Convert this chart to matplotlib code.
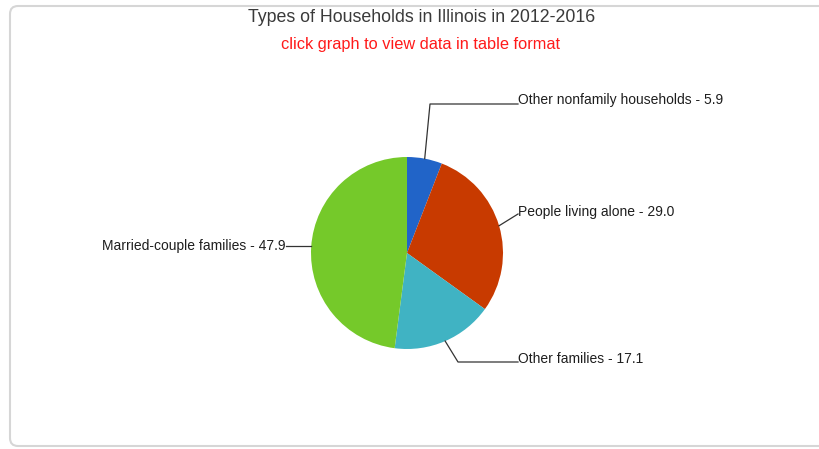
import matplotlib.pyplot as plt
import numpy as np
from matplotlib.patches import FancyBboxPatch

# --- Data ---------------------------------------------------------------------
categories = ["Other nonfamily households", "People living alone",
              "Other families", "Married-couple families"]
values = [5.9, 29.0, 17.1, 47.9]
colors = ["#2164C8", "#C83A00", "#40B3C3", "#75C92A"]

title = "Types of Households in Illinois in 2012-2016"
subtitle = "click graph to view data in table format"

# --- Layout (pixel space, y measured from the top) ---------------------------
W, H = 820, 449
cx, cy, r = 407, 253, 96
# label anchor (x, y) and elbow point of each leader line
label_pos = [(518, 100), (518, 212), (518, 359), (286, 246)]
elbows = [(430, 104), (518, 214), (458, 362), (286, 246)]

fig = plt.figure(figsize=(W / 100, H / 100), dpi=100)
ax = fig.add_axes([0, 0, 1, 1])

# rounded card border
card = FancyBboxPatch((10, 3), W + 20, H - 9, boxstyle="round,pad=0,rounding_size=8",
                      facecolor="white", edgecolor="#D6D6D6", linewidth=1.5,
                      transform=ax.transData, zorder=0)
ax.add_patch(card)

wedges, _ = ax.pie(values, colors=colors, startangle=90, counterclock=False,
                   center=(cx, H - cy), radius=r, frame=True,
                   wedgeprops=dict(linewidth=0))
ax.set_xlim(0, W)
ax.set_ylim(0, H)
ax.set_aspect("equal")
ax.axis("off")

# leader lines + labels
for w, cat, val, (lx, ly), (ex, ey) in zip(wedges, categories, values, label_pos, elbows):
    mid = np.deg2rad((w.theta1 + w.theta2) / 2)
    sx = cx + r * np.cos(mid)
    sy = (H - cy) + r * np.sin(mid)
    left = lx < cx
    if left:
        sy = H - ey
    ax.plot([sx, ex, lx], [sy, H - ey, H - ey], color="#333333", lw=0.9, zorder=3)
    ax.text(lx, H - ly, f"{cat} - {val:.1f}", ha="right" if left else "left",
            va="center", fontsize=10, color="#1E1E1E", family="Liberation Sans")

fig.text(422 / W, 1 - 18 / H, title, ha="center", va="center",
         fontsize=12.8, color="#3A3A3A", family="Liberation Sans")
fig.text(421 / W, 1 - 44 / H, subtitle, ha="center", va="center",
         fontsize=11.8, color="#FF1A1A", family="Liberation Sans")

fig.savefig("out.png", dpi=100)
